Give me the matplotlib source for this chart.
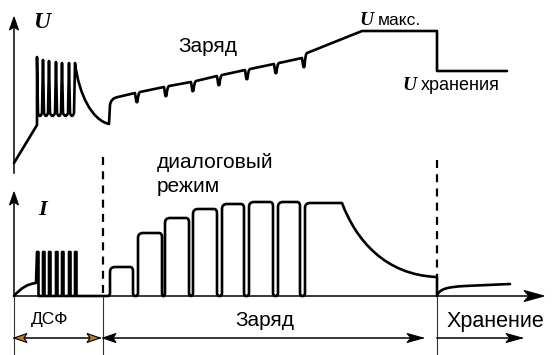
import matplotlib
matplotlib.use("Agg")
import matplotlib.pyplot as plt
from matplotlib.path import Path
from matplotlib.patches import PathPatch, Polygon
import numpy as np

# Schematic drawn in picture units (x to the right, y downward, 552 x 355)
W, H = 552, 355
base = 296          # zero line of the current panel
arrow_y = 338       # stage arrows under the chart

# --- voltage trace -------------------------------------------------------
u_start = [(14, 163), (37, 125)]
spike_x = [37, 43, 49, 56, 62, 69, 75]
spike_top = [57, 60, 61, 62, 63, 63, 63]
spike_low = 113
u_relax_end = (109, 124)
# charge ramp, cut by the teeth of the dialog mode
seg_start = [(118, 97), (140, 92), (169, 86), (196, 81), (222, 75), (250, 69), (279, 63), (307, 53)]
seg_end = [(135, 93), (164, 87), (191, 82), (217, 76), (245, 70), (274, 64), (302, 58), (362, 31)]
tooth_depth = 10
u_max = 31
u_store = 71
t_store = 437
t_end_u = 507

# --- current trace -------------------------------------------------------
dsf_pulse_x = [37, 43, 49, 56, 62, 69, 75]
dsf_pulse_top = 252
pulse_start = [110, 138, 165, 193, 222, 249, 278, 305]
pulse_end = [133, 162, 189, 217, 244, 273, 300, 342]
pulse_top = [267, 233, 218, 209, 204, 202, 202, 203]
i_tail = 277
i_store_end = (510, 284)

# --- stage boundaries ----------------------------------------------------
t_zero = 14
t_charge = 103
stages = ["ДСФ", "Заряд", "Хранение"]

fig = plt.figure(figsize=(W / 100, H / 100), dpi=100)
ax = fig.add_axes([0, 0, 1, 1])
ax.set_xlim(0, W)
ax.set_ylim(H, 0)
ax.axis("off")

LW = 1.9
M, L, C3, C4 = Path.MOVETO, Path.LINETO, Path.CURVE3, Path.CURVE4


def draw_path(verts, codes, **kw):
    p = PathPatch(Path(verts, codes), fill=False, lw=LW, ec="black",
                  capstyle="round", joinstyle="round", **kw)
    ax.add_patch(p)


def head(tip, direction, length=13, half=4.5, notch=3, color="black"):
    d = np.array(direction, float)
    d /= np.hypot(*d)
    n = np.array([-d[1], d[0]])
    t = np.array(tip, float)
    pts = [t, t - length * d + half * n, t - (length - notch) * d, t - length * d - half * n]
    ax.add_patch(Polygon(pts, closed=True, fc=color, ec="black", lw=0.8, zorder=5))


# voltage path
v, c = [u_start[0], u_start[1]], [M, L]
for i, (x, top) in enumerate(zip(spike_x, spike_top)):
    v.append((x, top)); c.append(L)
    if i < len(spike_x) - 1:
        nx = spike_x[i + 1]
        v += [(x + 1, spike_low), ((x + nx) / 2, spike_low + 6), (nx - 1, spike_low)]
        c += [L, C3, C3]
# relaxation after the last spike
v += [(79, 95), (92, 120), u_relax_end]
c += [C4, C4, C4]
v += [(110, 105), (111, 98), seg_start[0]]
c += [L, C3, C3]
for i in range(len(seg_end)):
    xe, ye = seg_end[i]
    v.append((xe, ye)); c.append(L)
    if i < len(seg_end) - 1:
        xs, ys = seg_start[i + 1]
        v += [(xe + 1.2, ye + tooth_depth - 2),
              (xe + 1.8, ye + tooth_depth + 1), (xe + 2.6, ye + tooth_depth - 2),
              (xe + 3.2, ys + 1), (xs, ys)]
        c += [L, C3, C3, C3, C3]
v += [(t_store, u_max), (t_store, u_store), (t_end_u, u_store)]
c += [L, L, L]
draw_path(v, c)

# current path
v, c = [(t_zero, base), (24, 284), (36, 283)], [M, C3, C3]
for x in dsf_pulse_x:
    if x != dsf_pulse_x[0]:
        v.append((x, base)); c.append(L)
    v += [(x, dsf_pulse_top), (x + 1.5, dsf_pulse_top), (x + 1.5, base)]
    c += [L, L, L]
for i, (xs, xe, top) in enumerate(zip(pulse_start, pulse_end, pulse_top)):
    v += [(xs - 2, base), (xs, base), (xs, base - 3)]
    c += [L, C3, C3]
    v += [(xs, top + 5), (xs, top), (xs + 5, top), (xe - 3, top)]
    c += [L, C3, C3, L]
    if i < len(pulse_start) - 1:
        v += [(xe, top), (xe, top + 4), (xe, base - 3), (xe, base), (xe + 2, base)]
        c += [C3, C3, L, C3, C3]
# decay of the last pulse and storage
v += [(pulse_end[-1], pulse_top[-1]), (356, 240), (385, 275), (t_store, i_tail)]
c += [L, C4, C4, C4]
v += [(t_store, base), (439, 289), (447, 287), (465, 286), i_store_end]
c += [L, C4, C4, C4, L]
draw_path(v, c)

# axes
ax.plot([t_zero, t_zero], [173, 22], color="black", lw=1.1)
head((t_zero, 17), (0, -1), length=13, half=4.5, notch=3)
ax.plot([t_zero, t_zero], [base, 197], color="black", lw=1.1)
head((t_zero, 192), (0, -1), length=13, half=4.5, notch=3)
ax.plot([t_zero, 530], [base, base], color="black", lw=1.1)
head((544, base), (1, 0), length=20, half=5.5, notch=5)

# dashed boundaries
ax.plot([t_charge, t_charge], [157, base], color="black", lw=1.6, ls=(0, (3.6, 2.8)))
ax.plot([t_store, t_store], [160, i_tail], color="black", lw=1.6, ls=(0, (3.6, 2.8)))

# thin stage separators
for x in [t_zero, t_charge, t_store]:
    ax.plot([x, x], [base + 1, 354], color="#333333", lw=0.8)

# stage arrows
orange = "#c27a1c"
ax.plot([t_zero, 100], [arrow_y, arrow_y], color="black", lw=1.1)
head((t_zero, arrow_y), (-1, 0), color=orange)
head((100, arrow_y), (1, 0), color=orange)
ax.plot([t_charge, 423], [arrow_y, arrow_y], color="black", lw=1.1)
head((t_charge, arrow_y), (-1, 0))
head((423, arrow_y), (1, 0), length=16, half=4.5, notch=4)
ax.plot([t_store, 522], [arrow_y, arrow_y], color="black", lw=1.1)
head((522, arrow_y), (1, 0), length=16, half=4.5, notch=4)

sans = "Liberation Sans"
serif = dict(family="Liberation Serif", weight="bold", style="italic")
ax.text(50, 324, stages[0], fontsize=12.5, family=sans, ha="center", va="baseline")
ax.text(265, 326, stages[1], fontsize=15, family=sans, ha="center", va="baseline")
ax.text(495, 327, stages[2], fontsize=15.5, family=sans, ha="center", va="baseline")

ax.text(208, 52, "Заряд", fontsize=15, family=sans, ha="center", va="baseline")
ax.text(157, 168, "диалоговый", fontsize=15, family=sans, ha="left", va="baseline")
ax.text(157, 192, "режим", fontsize=15, family=sans, ha="left", va="baseline")

ax.text(33, 28, "U", fontsize=17, ha="left", va="baseline", **serif)
ax.text(38, 215, "I", fontsize=16, ha="left", va="baseline", **serif)
ax.text(359, 25, "U", fontsize=14, ha="left", va="baseline", **serif)
ax.text(378, 25, "макс.", fontsize=12.5, family=sans, ha="left", va="baseline")
ax.text(402, 90, "U", fontsize=14, ha="left", va="baseline", **serif)
ax.text(421, 90, "хранения", fontsize=13, family=sans, ha="left", va="baseline")

fig.savefig("out.png", dpi=100)
